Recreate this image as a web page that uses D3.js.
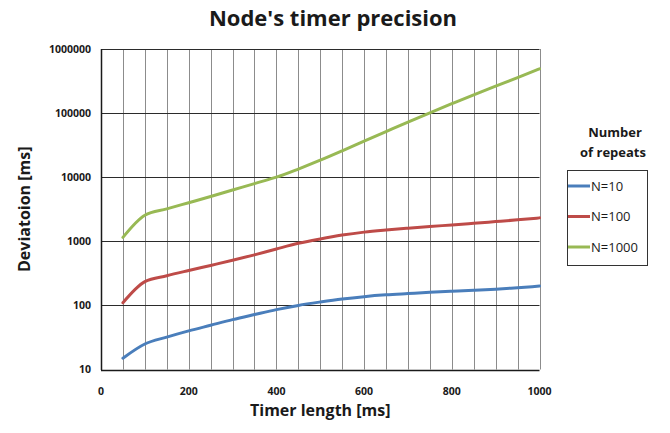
<!DOCTYPE html>
<html lang="en">
<head>
    <meta charset='utf-8'>
    <title>Node's timer precision</title>
    <style>
        body { margin: 0; background: #fff; }
        svg { display: block; font-family: "Open Sans", "Liberation Sans", sans-serif; }
    </style>
</head>
<body>
<svg></svg>
<script src="https://cdn.jsdelivr.net/npm/d3@7"></script>
<script>
    // timer length (ms)
    const timerLengths = [50, 100, 150, 200, 250, 300, 350, 400, 450, 500, 550, 600, 650, 700, 750, 800, 850, 900, 950, 1000]
    // deviation per series (ms)
    const n10 = [15, 25, 32, 40, 49, 60, 72, 86, 100, 113, 126, 137, 146, 153, 160, 166, 172, 179, 189, 200]
    const n100 = [110, 235, 290, 350, 420, 505, 615, 760, 930, 1090, 1250, 1390, 1500, 1600, 1700, 1800, 1910, 2030, 2160, 2320]
    const n1000 = [1150, 2550, 3200, 4000, 5000, 6300, 7950, 10000, 13400, 18400, 25800, 36500, 51500, 72500, 101000, 140000, 193000, 263000, 358000, 490000]
    const seriesNames = ["N=10", "N=100", "N=1000"]
    const seriesColors = ["#4a7ebb", "#be4b48", "#98b954"]
    const xTicks = [0, 200, 400, 600, 800, 1000]
    const yTicks = [10, 100, 1000, 10000, 100000, 1000000]

    const width = 670
    const height = 433
    const margin = ({top: 49, right: 130, bottom: 63, left: 101})

    const series = [n10, n100, n1000].map((values, i) => ({
        name: seriesNames[i],
        color: seriesColors[i],
        points: values.map((v, j) => ({x: timerLengths[j], y: v}))
    }))

    const svg = d3.select("svg")
        .attr("width", width)
        .attr("height", height)

    const x = d3.scaleLinear()
        .domain([0, 1000])
        .range([margin.left, width - margin.right - 0.5])

    const y = d3.scaleLog()
        .domain([10, 1000000])
        .range([height - margin.bottom - 0.5, margin.top])

    // vertical grid every 50 ms
    svg.append("g")
        .attr("stroke", "#8c8c8c")
        .attr("stroke-width", 1)
        .selectAll("line")
        .data(d3.range(50, 1001, 50))
        .join("line")
        .attr("x1", d => Math.round(x(d)) + 0.5)
        .attr("x2", d => Math.round(x(d)) + 0.5)
        .attr("y1", y(1000000))
        .attr("y2", y(10))

    // horizontal grid at decades
    svg.append("g")
        .attr("stroke", "#2b2b2b")
        .attr("stroke-width", 1)
        .selectAll("line")
        .data(yTicks.slice(1))
        .join("line")
        .attr("x1", x(0))
        .attr("x2", x(1000))
        .attr("y1", d => Math.round(y(d)) + 0.5)
        .attr("y2", d => Math.round(y(d)) + 0.5)

    // axes lines
    svg.append("line")
        .attr("x1", Math.round(x(0)) + 0.5).attr("x2", Math.round(x(0)) + 0.5)
        .attr("y1", y(1000000)).attr("y2", y(10) + 0.5)
        .attr("stroke", "#1a1a1a").attr("stroke-width", 1.5)
    svg.append("line")
        .attr("x1", x(0)).attr("x2", x(1000))
        .attr("y1", Math.round(y(10)) + 0.5).attr("y2", Math.round(y(10)) + 0.5)
        .attr("stroke", "#1a1a1a").attr("stroke-width", 1.5)

    // tick labels
    svg.append("g")
        .attr("font-size", 10.5)
        .attr("font-weight", "bold")
        .attr("fill", "#1a1a1a")
        .attr("text-anchor", "end")
        .selectAll("text")
        .data(yTicks)
        .join("text")
        .attr("x", x(0) - 10)
        .attr("y", d => y(d))
        .attr("dy", "0.35em")
        .text(d => d)

    svg.append("g")
        .attr("font-size", 10.5)
        .attr("font-weight", "bold")
        .attr("fill", "#1a1a1a")
        .attr("text-anchor", "middle")
        .selectAll("text")
        .data(xTicks)
        .join("text")
        .attr("x", d => x(d))
        .attr("y", y(10) + 25)
        .text(d => d)

    // lines
    const line = d3.line()
        .x(d => x(d.x))
        .y(d => y(d.y))
        .curve(d3.curveMonotoneX)

    svg.append("g")
        .attr("fill", "none")
        .attr("stroke-width", 3)
        .attr("stroke-linecap", "round")
        .selectAll("path")
        .data(series)
        .join("path")
        .attr("stroke", d => d.color)
        .attr("d", d => line(d.points))

    // titles
    svg.append("text")
        .attr("x", 333)
        .attr("y", 26)
        .attr("text-anchor", "middle")
        .attr("font-size", 22)
        .attr("font-weight", "bold")
        .attr("fill", "#1a1a1a")
        .text("Node's timer precision")

    svg.append("text")
        .attr("x", (x(0) + x(1000)) / 2)
        .attr("y", 416)
        .attr("text-anchor", "middle")
        .attr("font-size", 16)
        .attr("font-weight", "bold")
        .attr("fill", "#1a1a1a")
        .text("Timer length [ms]")

    svg.append("text")
        .attr("transform", `translate(30,${(y(10) + y(1000000)) / 2}) rotate(-90)`)
        .attr("text-anchor", "middle")
        .attr("font-size", 16)
        .attr("font-weight", "bold")
        .attr("fill", "#1a1a1a")
        .text("Deviatoion [ms]")

    // legend
    const legend = svg.append("g")
    legend.append("text")
        .attr("x", 615).attr("y", 137)
        .attr("text-anchor", "middle")
        .attr("font-size", 13).attr("font-weight", "bold").attr("fill", "#1a1a1a")
        .text("Number")
    legend.append("text")
        .attr("x", 613).attr("y", 157)
        .attr("text-anchor", "middle")
        .attr("font-size", 13).attr("font-weight", "bold").attr("fill", "#1a1a1a")
        .text("of repeats")
    legend.append("rect")
        .attr("x", 567.5).attr("y", 170.5)
        .attr("width", 80).attr("height", 95)
        .attr("fill", "none").attr("stroke", "#333").attr("stroke-width", 1)

    const items = legend.selectAll("g.item")
        .data(series)
        .join("g")
        .attr("class", "item")
        .attr("transform", (d, i) => `translate(568,${186 + i * 30.5})`)
    items.append("line")
        .attr("x1", 0).attr("x2", 22)
        .attr("stroke", d => d.color).attr("stroke-width", 3)
    items.append("text")
        .attr("x", 23).attr("dy", "0.35em")
        .attr("font-size", 13).attr("fill", "#1a1a1a")
        .text(d => d.name)
</script>
</body>
</html>
